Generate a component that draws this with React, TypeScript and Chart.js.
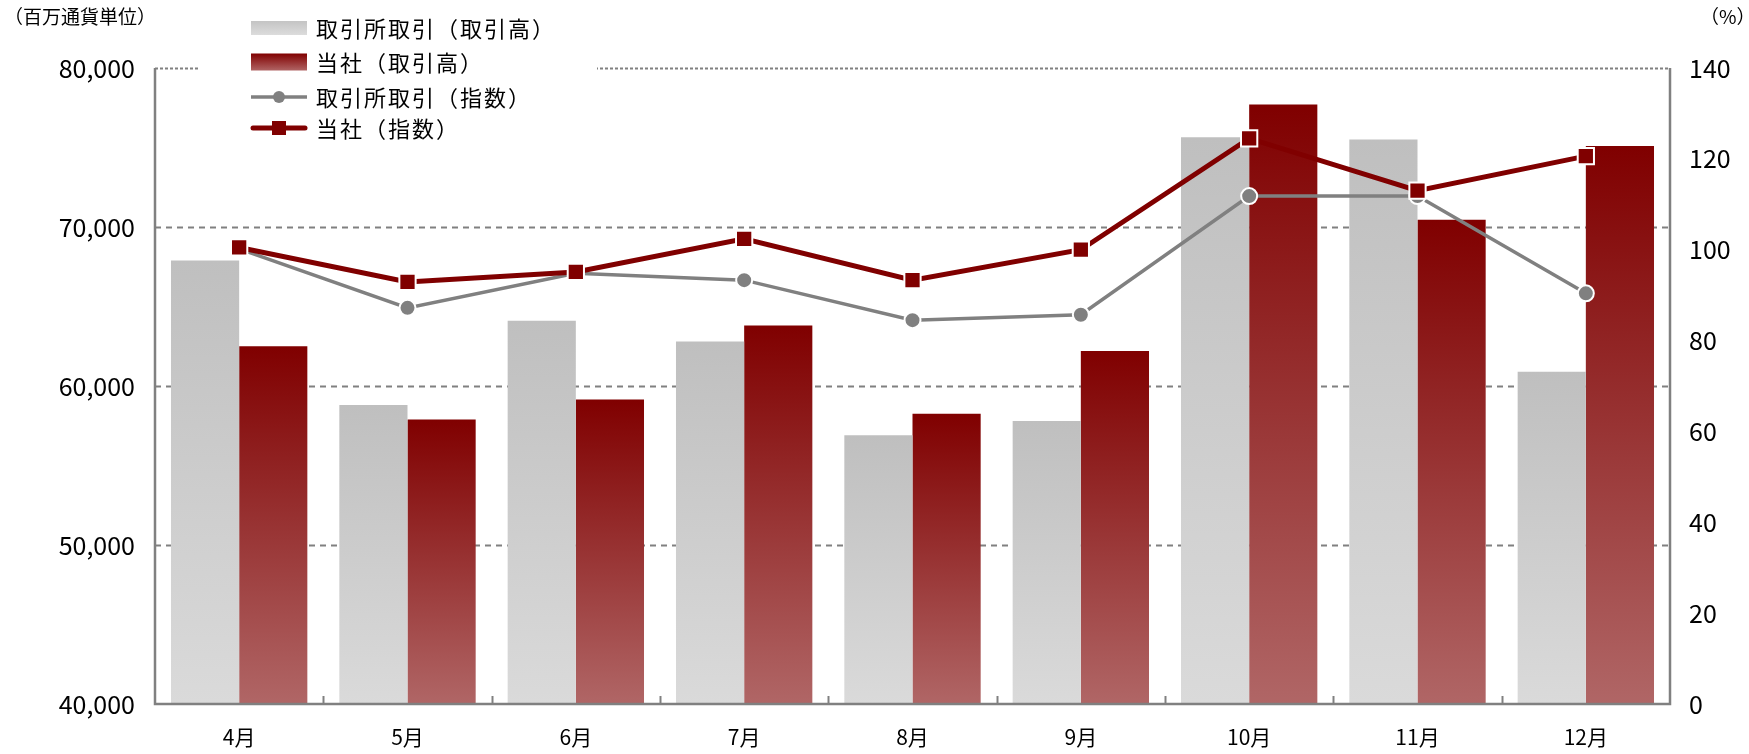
import React, { useEffect, useRef } from "react";
import { Chart, registerables } from "chart.js";

Chart.register(...registerables);

const categories = ["4月", "5月", "6月", "7月", "8月", "9月", "10月", "11月", "12月"];
const exchangeVolume = [67900, 58800, 64100, 62800, 56900, 57800, 75650, 75500, 60900];
const companyVolume = [62500, 57900, 59150, 63800, 58250, 62200, 77700, 70450, 75100];
const exchangeIndex = [100.2, 87.2, 94.8, 93.3, 84.5, 85.7, 111.8, 111.8, 90.4];
const companyIndex = [100.5, 92.9, 95.1, 102.4, 93.3, 100.0, 124.5, 113.0, 120.6];
const leftTicks = [40000, 50000, 60000, 70000, 80000];
const rightTicks = [0, 20, 40, 60, 80, 100, 120, 140];
const legendLabels = ["取引所取引（取引高）", "当社（取引高）", "取引所取引（指数）", "当社（指数）"];
const leftUnit = "（百万通貨単位）";
const rightUnit = "（%）";

const FONT = "'Noto Sans CJK JP', 'Noto Sans', sans-serif";
const AXIS = "#808080";
const RED = "#800000";

function barGradient(ctx: any, top: string, bottom: string) {
  const chart = ctx.chart;
  const area = chart.chartArea;
  if (!area || ctx.raw == null) return top;
  const yScale = chart.scales.y;
  const yTop = yScale.getPixelForValue(ctx.raw);
  const g = chart.ctx.createLinearGradient(0, yTop, 0, area.bottom);
  g.addColorStop(0, top);
  g.addColorStop(1, bottom);
  return g;
}

const framePlugin = {
  id: "frame",
  beforeDatasetsDraw(chart: any) {
    const { ctx, chartArea: a, scales } = chart;
    ctx.save();
    ctx.strokeStyle = AXIS;
    leftTicks.forEach((v) => {
      if (v === leftTicks[0]) return;
      const y = Math.round(scales.y.getPixelForValue(v)) + 0.5;
      ctx.lineWidth = 2;
      ctx.setLineDash(v === leftTicks[leftTicks.length - 1] ? [3, 2] : [6, 5]);
      ctx.beginPath();
      ctx.moveTo(a.left, y);
      ctx.lineTo(a.right, y);
      ctx.stroke();
    });
    ctx.restore();
  },
  afterDatasetsDraw(chart: any) {
    const { ctx, chartArea: a } = chart;
    ctx.save();
    ctx.strokeStyle = AXIS;
    ctx.lineWidth = 2.5;
    ctx.setLineDash([]);
    ctx.beginPath();
    ctx.moveTo(a.left, a.top);
    ctx.lineTo(a.left, a.bottom);
    ctx.lineTo(a.right, a.bottom);
    ctx.lineTo(a.right, a.top);
    ctx.stroke();
    const n = categories.length;
    const w = (a.right - a.left) / n;
    ctx.lineWidth = 2;
    for (let i = 1; i < n; i++) {
      const x = Math.round(a.left + w * i) + 0.5;
      ctx.beginPath();
      ctx.moveTo(x, a.bottom);
      ctx.lineTo(x, a.bottom - 8);
      ctx.stroke();
    }
    ctx.restore();
  },
  afterDraw(chart: any) {
    const { ctx } = chart;
    ctx.save();
    ctx.fillStyle = "#ffffff";
    ctx.fillRect(199, 60, 398, 16);
    ctx.fillStyle = "#000";
    ctx.font = `19px ${FONT}`;
    ctx.textBaseline = "middle";
    ctx.textAlign = "left";
    ctx.fillText(leftUnit, 4, 17);
    ctx.fillText(rightUnit, 1700, 17);
    const rows = [28, 62, 97, 128];
    const bx = 251;
    const bw = 56;
    ctx.font = `22px ${FONT}`;
    try {
      (ctx as any).letterSpacing = "2px";
    } catch (e) {}
    rows.forEach((y, i) => {
      if (i === 0 || i === 1) {
        const h = i === 0 ? 14 : 17;
        const g = ctx.createLinearGradient(0, y - h / 2, 0, y + h / 2);
        if (i === 0) {
          g.addColorStop(0, "#c4c4c4");
          g.addColorStop(1, "#dcdcdc");
        } else {
          g.addColorStop(0, RED);
          g.addColorStop(1, "#b06464");
        }
        ctx.fillStyle = g;
        ctx.fillRect(bx, y - h / 2, bw, h);
      } else if (i === 2) {
        ctx.strokeStyle = AXIS;
        ctx.lineWidth = 3.5;
        ctx.beginPath();
        ctx.moveTo(bx, y);
        ctx.lineTo(bx + bw, y);
        ctx.stroke();
        ctx.fillStyle = AXIS;
        ctx.beginPath();
        ctx.arc(bx + bw / 2, y, 6, 0, Math.PI * 2);
        ctx.fill();
      } else {
        ctx.strokeStyle = RED;
        ctx.lineWidth = 5;
        ctx.lineCap = "round";
        ctx.beginPath();
        ctx.moveTo(bx + 2, y);
        ctx.lineTo(bx + bw - 2, y);
        ctx.stroke();
        ctx.fillStyle = RED;
        ctx.fillRect(bx + bw / 2 - 7, y - 7, 14, 14);
      }
      ctx.fillStyle = "#000";
      ctx.fillText(legendLabels[i], 316, y + 1);
    });
    ctx.restore();
  },
};

export default function App() {
  const ref = useRef<HTMLCanvasElement | null>(null);
  useEffect(() => {
    document.body.style.margin = "0";
    const canvas = ref.current;
    if (!canvas) return;
    const chart = new Chart(canvas, {
      type: "bar",
      data: {
        labels: categories,
        datasets: [
          {
            type: "bar",
            label: legendLabels[0],
            data: exchangeVolume,
            yAxisID: "y",
            order: 2,
            backgroundColor: (c: any) => barGradient(c, "#bfbfbf", "#dadada"),
            categoryPercentage: 0.81,
            barPercentage: 1,
          } as any,
          {
            type: "bar",
            label: legendLabels[1],
            data: companyVolume,
            yAxisID: "y",
            order: 2,
            backgroundColor: (c: any) => barGradient(c, RED, "#b06666"),
            categoryPercentage: 0.81,
            barPercentage: 1,
          } as any,
          {
            type: "line",
            label: legendLabels[2],
            data: exchangeIndex,
            yAxisID: "y1",
            order: 1,
            borderColor: AXIS,
            borderWidth: 3.5,
            pointStyle: "circle",
            pointRadius: 8,
            pointBackgroundColor: AXIS,
            pointBorderColor: "#ffffff",
            pointBorderWidth: 2,
            tension: 0,
          } as any,
          {
            type: "line",
            label: legendLabels[3],
            data: companyIndex,
            yAxisID: "y1",
            order: 0,
            borderColor: RED,
            borderWidth: 5,
            pointStyle: "rect",
            pointRadius: 11.5,
            pointBackgroundColor: RED,
            pointBorderColor: "#ffffff",
            pointBorderWidth: 2,
            tension: 0,
          } as any,
        ],
      },
      options: {
        animation: false,
        responsive: false,
        maintainAspectRatio: false,
        layout: { padding: { top: 68, left: 0, right: 0, bottom: 0 } },
        plugins: { legend: { display: false }, tooltip: { enabled: false }, title: { display: false } },
        scales: {
          x: {
            offset: true,
            grid: { display: false },
            border: { display: false },
            ticks: { color: "#000", font: { family: FONT, size: 21 }, padding: 12 },
            afterFit: (s: any) => {
              s.height = 50;
            },
          },
          y: {
            position: "left",
            min: leftTicks[0],
            max: leftTicks[leftTicks.length - 1],
            afterBuildTicks: (s: any) => {
              s.ticks = leftTicks.map((v) => ({ value: v }));
            },
            grid: { display: false },
            border: { display: false },
            ticks: {
              color: "#000",
              font: { family: FONT, size: 25 },
              padding: 12,
              callback: (v: any) => Number(v).toLocaleString("en-US"),
            },
            afterFit: (s: any) => {
              s.width = 155;
            },
          },
          y1: {
            position: "right",
            min: rightTicks[0],
            max: rightTicks[rightTicks.length - 1],
            afterBuildTicks: (s: any) => {
              s.ticks = rightTicks.map((v) => ({ value: v }));
            },
            grid: { display: false },
            border: { display: false },
            ticks: { color: "#000", font: { family: FONT, size: 25 }, padding: 11 },
            afterFit: (s: any) => {
              s.width = 79;
            },
          },
        },
      } as any,
      plugins: [framePlugin],
    });
    return () => chart.destroy();
  }, []);
  return (
    <div style={{ width: 1749, height: 754, background: "#fff" }}>
      <canvas ref={ref} width={1749} height={754} style={{ display: "block", width: 1749, height: 754 }} />
    </div>
  );
}
